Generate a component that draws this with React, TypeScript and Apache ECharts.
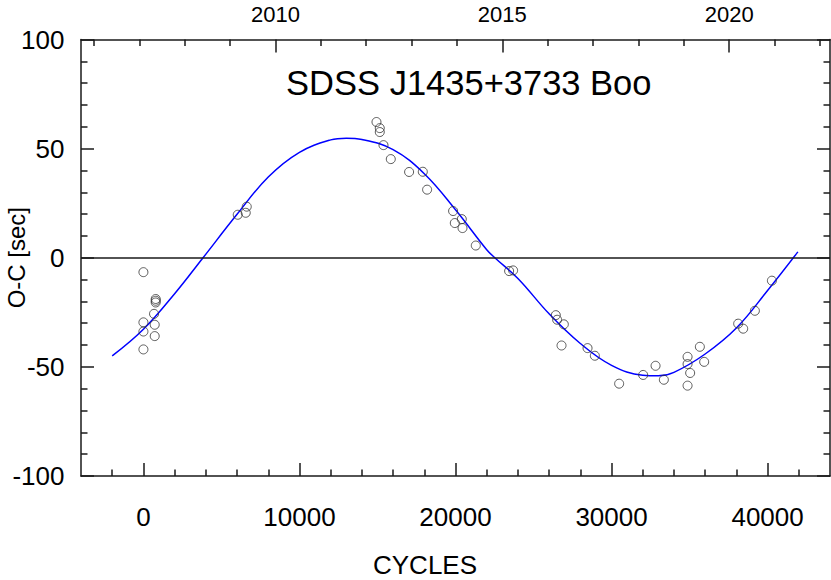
import React, { useEffect, useRef } from "react";
import * as echarts from "echarts";

// Observed O-C timings
const obsCycles = [
  0, 788, 788, 788, 680, 0, 724, 0, 724, 0,
  6045, 6558, 6622,
  14936, 15147, 15147, 15385, 15853, 17026, 17904, 18180, 19846, 20404, 19955, 20449, 21301,
  23436, 23692, 26429, 26513, 26942, 26795, 28462, 28929, 30487,
  32026, 32821, 33353, 34872, 34872, 35038, 34872, 35660, 35936,
  38115, 38436, 39186, 40276,
];
const obsOC = [
  -6.6, -18.9, -19.7, -20.5, -25.7, -29.6, -30.7, -33.8, -35.9, -42.0,
  19.7, 20.6, 23.4,
  62.2, 59.4, 57.6, 51.6, 45.2, 39.3, 39.4, 31.2, 21.4, 17.7, 15.9, 13.6, 5.6,
  -6.1, -5.8, -26.3, -28.4, -30.5, -40.2, -41.4, -44.9, -57.7,
  -53.7, -49.5, -55.9, -45.4, -48.7, -52.8, -58.6, -40.8, -47.7,
  -30.2, -32.5, -24.3, -10.5,
];

// Fitted curve
const fitCycles = [
  -2000, 0, 2000, 3821, 6000, 8000, 10000, 12000, 13000, 14000, 16000, 18000,
  20000, 22000, 22519, 24000, 26000, 28000, 30000, 32000, 33000, 34000, 36000,
  38000, 40000, 41942,
];
const fitOC = [
  -45.0, -32.8, -16.5, 0, 19.9, 37.0, 48.3, 54.0, 54.8, 54.2, 49.5, 38.5,
  22.0, 3.7, 0, -9.5, -25.7, -39.3, -49.3, -53.8, -54.1, -52.5, -44.1,
  -32.2, -15.0, 2.7,
];

const cycleTicks = [0, 10000, 20000, 30000, 40000];
const cycleMinorTicks = [
  -2000, 2000, 4000, 6000, 8000, 12000, 14000, 16000, 18000, 22000, 24000,
  26000, 28000, 32000, 34000, 36000, 38000, 42000,
];
const yearTicks = [2010, 2015, 2020];
const yearMinorTicks = [
  2006, 2007, 2008, 2009, 2011, 2012, 2013, 2014, 2016, 2017, 2018, 2019, 2021, 2022,
];
const yearMin = 2005.713;
const yearMax = 2022.223;

const titleText = "SDSS J1435+3733 Boo";
const xName = "CYCLES";
const yName = "O-C [sec]";

const FONT = "'Liberation Sans', Arial, Helvetica, sans-serif";
const INK = "#1a1a1a";

export default function App() {
  const ref = useRef<HTMLDivElement>(null);
  useEffect(() => {
    if (!ref.current) return;
    const chart = echarts.init(ref.current, null, { renderer: "svg" });
    const lineStyle = { color: INK, width: 1.5 };
    const fmt = (v: number) => String(v);
    const baseX = {
      type: "value" as const,
      gridIndex: 0,
      splitLine: { show: false },
      minorSplitLine: { show: false },
    };
    const option: any = {
      animation: false,
      backgroundColor: "#fff",
      grid: { left: 81, top: 39.5, width: 749, height: 436.5, containLabel: false },
      xAxis: [
        {
          ...baseX,
          position: "bottom",
          min: -4000,
          max: 44000,
          axisLine: { show: true, onZero: false, lineStyle },
          axisTick: { show: true, inside: true, length: 13, customValues: cycleTicks, lineStyle },
          axisLabel: {
            show: true,
            customValues: cycleTicks,
            margin: 28,
            fontSize: 26,
            color: "#000",
            fontFamily: FONT,
            formatter: fmt,
          },
        },
        {
          ...baseX,
          position: "bottom",
          min: -4000,
          max: 44000,
          axisLine: { show: false, onZero: false },
          axisTick: { show: true, inside: true, length: 6.5, customValues: cycleMinorTicks, lineStyle },
          axisLabel: { show: false },
        },
        {
          ...baseX,
          position: "top",
          min: yearMin,
          max: yearMax,
          axisLine: { show: true, onZero: false, lineStyle },
          axisTick: { show: true, inside: true, length: 13, customValues: yearTicks, lineStyle },
          axisLabel: {
            show: true,
            customValues: yearTicks,
            margin: 14.5,
            fontSize: 22,
            color: "#000",
            fontFamily: FONT,
            formatter: fmt,
          },
        },
        {
          ...baseX,
          position: "top",
          min: yearMin,
          max: yearMax,
          axisLine: { show: false, onZero: false },
          axisTick: { show: true, inside: true, length: 6.5, customValues: yearMinorTicks, lineStyle },
          axisLabel: { show: false },
        },
      ],
      yAxis: [
        {
          type: "value",
          position: "left",
          min: -100,
          max: 100,
          interval: 50,
          axisLine: { show: true, onZero: false, lineStyle },
          axisTick: { show: true, inside: true, length: 13, lineStyle },
          minorTick: { show: true, splitNumber: 5, length: 6.5, lineStyle },
          axisLabel: {
            show: true,
            margin: 16.5,
            fontSize: 26,
            color: "#000",
            fontFamily: FONT,
            formatter: fmt,
          },
          splitLine: { show: false },
          minorSplitLine: { show: false },
        },
        {
          type: "value",
          position: "right",
          min: -100,
          max: 100,
          interval: 50,
          axisLine: { show: true, onZero: false, lineStyle },
          axisTick: { show: true, inside: true, length: 13, lineStyle },
          minorTick: { show: true, splitNumber: 5, length: 6.5, lineStyle },
          axisLabel: { show: false },
          splitLine: { show: false },
          minorSplitLine: { show: false },
        },
      ],
      series: [
        {
          type: "line",
          xAxisIndex: 0,
          yAxisIndex: 0,
          data: fitCycles.map((c, i) => [c, fitOC[i]]),
          showSymbol: false,
          symbol: "none",
          smooth: 0.4,
          lineStyle: { color: "#0000ff", width: 1.5 },
          silent: true,
          z: 2,
        },
        {
          type: "scatter",
          xAxisIndex: 0,
          yAxisIndex: 0,
          data: obsCycles.map((c, i) => [c, obsOC[i]]),
          symbol: "circle",
          symbolSize: 9,
          itemStyle: { color: "rgba(0,0,0,0)", borderColor: "#333", borderWidth: 1 },
          silent: true,
          z: 3,
          markLine: {
            silent: true,
            symbol: "none",
            label: { show: false },
            lineStyle: { color: INK, width: 1.5, type: "solid" },
            data: [{ yAxis: 0 }],
            animation: false,
          },
        },
      ],
      graphic: [
        {
          type: "text",
          x: 468.8,
          y: 83,
          style: {
            text: titleText,
            fill: "#000",
            fontSize: 34.5,
            fontFamily: FONT,
            align: "center",
            verticalAlign: "middle",
            textAlign: "center",
            textVerticalAlign: "middle",
          },
        },
        {
          type: "text",
          x: 425,
          y: 564.5,
          style: {
            text: xName,
            fill: "#000",
            fontSize: 26,
            fontFamily: FONT,
            align: "center",
            verticalAlign: "middle",
            textAlign: "center",
            textVerticalAlign: "middle",
          },
        },
        {
          type: "text",
          x: 16,
          y: 257.7,
          rotation: Math.PI / 2,
          style: {
            text: yName,
            fill: "#000",
            fontSize: 24,
            fontFamily: FONT,
            align: "center",
            verticalAlign: "middle",
            textAlign: "center",
            textVerticalAlign: "middle",
          },
        },
      ],
    };
    chart.setOption(option);
    return () => chart.dispose();
  }, []);
  return (
    <div
      ref={ref}
      style={{ position: "fixed", left: 0, top: 0, width: 831, height: 580, background: "#fff" }}
    />
  );
}
